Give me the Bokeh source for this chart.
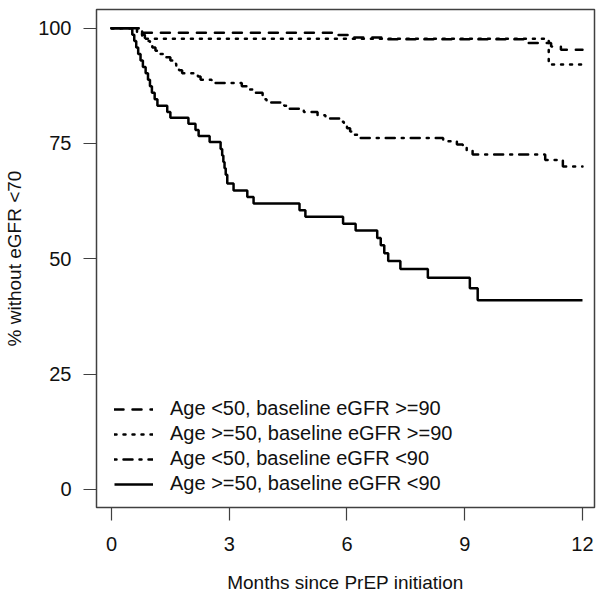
from bokeh.plotting import figure
from bokeh.models import Range1d, FixedTicker, Legend, LegendItem
from bokeh.embed import file_html
from bokeh.resources import INLINE

# ---- data (months, % without eGFR <70) ----
t_young_hi = [0, 0.80, 5.65, 6.05, 7.00, 10.60, 11.20, 11.45, 12]
s_young_hi = [100, 99.0, 98.5, 98.0, 97.6, 96.8, 96.0, 95.3, 95.3]

t_old_hi = [0, 0.65, 0.78, 11.14, 12]
s_old_hi = [100, 98.9, 97.7, 92.1, 92.1]

t_young_lo = [0, 0.72, 0.78, 0.85, 0.92, 0.98, 1.04, 1.12, 1.22, 1.35, 1.50, 1.58,
              1.65, 1.72, 1.80, 2.20, 2.27, 2.55, 3.32, 3.50, 3.60, 3.85, 3.90, 3.95,
              4.40, 4.50, 4.90, 5.25, 5.45, 5.85, 5.92, 6.00, 6.08, 6.15, 6.32, 8.45,
              8.80, 8.95, 9.05, 9.20, 11.05, 11.50, 12]
s_young_lo = [100, 99.3, 98.6, 97.9, 97.2, 96.5, 95.8, 95.1, 94.4, 93.7, 93.0, 92.3,
              91.6, 90.9, 90.2, 89.5, 88.8, 88.1, 87.4, 86.7, 86.0, 85.3, 84.6, 83.9,
              83.2, 82.5, 81.8, 81.1, 80.4, 79.7, 79.0, 78.3, 77.6, 76.9, 76.2, 75.5,
              74.8, 74.1, 73.4, 72.6, 71.4, 70.0, 70.0]

t_old_lo = [0, 0.53, 0.58, 0.63, 0.68, 0.74, 0.80, 0.87, 0.93, 0.98, 1.03, 1.10, 1.17,
            1.42, 1.50, 1.96, 2.14, 2.22, 2.50, 2.78, 2.82, 2.85, 2.88, 2.91, 2.95,
            3.11, 3.46, 3.62, 4.79, 4.94, 5.90, 6.22, 6.77, 6.86, 6.95, 7.05, 7.36,
            8.06, 9.13, 9.33, 12]
s_old_lo = [100, 98.6, 97.2, 95.8, 94.4, 93.0, 91.6, 90.2, 88.8, 87.4, 86.0, 84.6, 83.2,
            81.8, 80.6, 79.3, 77.9, 76.6, 75.3, 73.8, 72.4, 71.0, 69.6, 68.2, 66.3,
            64.8, 63.4, 62.0, 60.5, 59.1, 57.6, 56.1, 54.5, 52.9, 51.2, 49.5, 47.8,
            45.9, 43.6, 41.0, 41.0]

labels = ["Age <50, baseline eGFR >=90", "Age >=50, baseline eGFR >=90",
          "Age <50, baseline eGFR <90", "Age >=50, baseline eGFR <90"]
x_ticks = [0, 3, 6, 9, 12]
y_ticks = [0, 25, 50, 75, 100]
x_title = "Months since PrEP initiation"
y_title = "% without eGFR <70"

FONT = "Liberation Sans"
AXC = "#404040"
TXT = "#111111"

p = figure(width=604, height=597, output_backend="svg", toolbar_location=None,
           x_range=Range1d(-0.382, 12.306), y_range=Range1d(-3.95, 104.05),
           min_border_left=96, min_border_right=10, min_border_top=9, min_border_bottom=90)
p.xgrid.visible = False
p.ygrid.visible = False
p.outline_line_color = AXC
p.outline_line_width = 1.5
p.background_fill_color = "white"
p.border_fill_color = "white"

for ax, ticks in ((p.xaxis[0], x_ticks), (p.yaxis[0], y_ticks)):
    ax.ticker = FixedTicker(ticks=ticks)
    ax.axis_line_color = None
    ax.major_tick_out = 13
    ax.major_tick_in = 0
    ax.major_tick_line_color = AXC
    ax.major_tick_line_width = 1.2
    ax.minor_tick_line_color = None
    ax.major_label_text_font = FONT
    ax.major_label_text_font_size = "20px"
    ax.major_label_text_color = TXT
    ax.axis_label_text_font = FONT
    ax.axis_label_text_font_size = "19px"
    ax.axis_label_text_font_style = "normal"
    ax.axis_label_text_color = TXT
p.xaxis[0].major_label_standoff = 16
p.yaxis[0].major_label_standoff = 12
p.xaxis[0].axis_label = x_title
p.yaxis[0].axis_label = y_title
p.xaxis[0].axis_label_standoff = 18
p.yaxis[0].axis_label_standoff = 10

LW = 2.5
r1 = p.step(t_young_hi, s_young_hi, mode="after", line_color="black", line_width=LW,
            line_dash="9 9", line_cap="round")
r2 = p.step(t_old_hi, s_old_hi, mode="after", line_color="black", line_width=LW,
            line_dash="2 7", line_cap="round")
r3 = p.step(t_young_lo, s_young_lo, mode="after", line_color="black", line_width=LW,
            line_dash="2 7 9 7", line_cap="round")
r4 = p.step(t_old_lo, s_old_lo, mode="after", line_color="black", line_width=LW)

legend = Legend(items=[LegendItem(label=l, renderers=[r]) for l, r in zip(labels, [r1, r2, r3, r4])],
                location=(18, 12), border_line_color=None, background_fill_alpha=0,
                padding=0, margin=0, glyph_width=39, glyph_height=20, label_standoff=17,
                spacing=2, label_height=20, label_text_font=FONT,
                label_text_font_size="20px", label_text_color=TXT)
p.add_layout(legend)

open("out.html", "w").write(file_html(p, INLINE))
